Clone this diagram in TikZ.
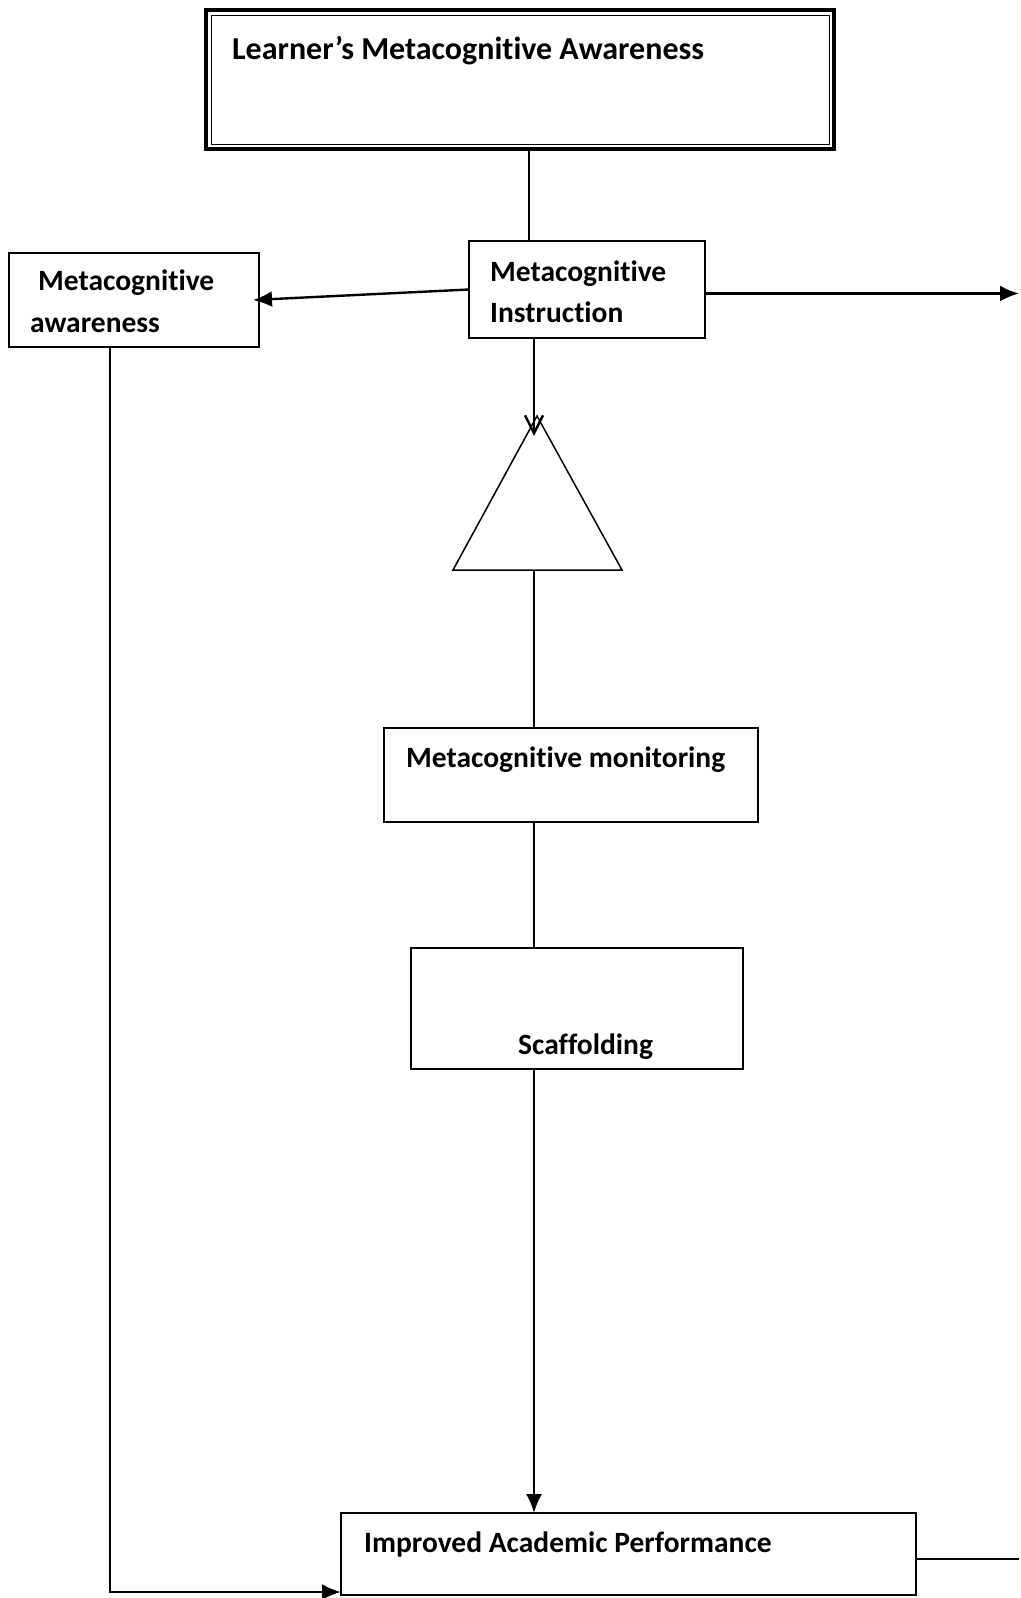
\documentclass[tikz,border=0pt]{standalone}
\usepackage{fontspec}
\setmainfont[Ligatures=NoCommon]{Carlito}
\usetikzlibrary{arrows.meta}
\tikzset{
  box/.style={draw, line width=1.3pt, inner sep=0pt, outer sep=0pt, anchor=north west},
  lbl/.style={anchor=base west, inner sep=0pt, font=\bfseries\fontsize{29.5}{35}\selectfont},
  link/.style={line width=2.4pt},
  tip/.style={-{Latex[length=19pt,width=16pt]}},
}
\begin{document}
\begin{tikzpicture}[x=1pt,y=-1pt]
\useasboundingbox (0,0) rectangle (1020,1598);
\node[box, line width=4pt, minimum width=628pt, minimum height=139pt] (lma) at (206,10) {};
\draw[line width=1pt] ([shift={(5,5)}]lma.north west) rectangle ([shift={(-5,-5)}]lma.south east);
\node[lbl, font=\bfseries\fontsize{32}{38}\selectfont] (lma-t) at (232,59) {Learner’s Metacognitive Awareness};
\node[box, minimum width=236pt, minimum height=97pt] (mi) at (469,241) {};
\node[lbl] (mi-t1) at (490,281) {Metacognitive};
\node[lbl] (mi-t2) at (490,322) {Instruction};
\node[box, minimum width=250pt, minimum height=94pt] (ma) at (9,253) {};
\node[lbl] (ma-t1) at (38,290) {Metacognitive};
\node[lbl] (ma-t2) at (30,332) {awareness};
\node[box, line width=2.2pt, minimum width=374pt, minimum height=94pt] (mm) at (384,728) {};
\node[lbl] (mm-t) at (406,767) {Metacognitive monitoring};
\node[box, minimum width=332pt, minimum height=121pt] (sc) at (411,948) {};
\node[lbl] (sc-t) at (518,1054) {Scaffolding};
\node[box, minimum width=575pt, minimum height=82pt] (iap) at (341,1513) {};
\node[lbl] (iap-t) at (364,1552) {Improved Academic Performance};
\coordinate (tri-a) at (537,416);
\coordinate (tri-l) at (453,570);
\coordinate (tri-r) at (622,570);
\coordinate (sp) at (534,0);
\coordinate (lx) at (110,0);
\coordinate (re) at (1019,0);
\coordinate (vtip) at (534,436);
\draw[line width=1.5pt] (tri-a) -- (tri-l) -- (tri-r) -- cycle;
\draw[link] ([xshift=9pt]lma.south) -- ([xshift=9pt]lma.south |- mi.north);
\draw[link,tip] (mi.west) -- ([xshift=-6pt]ma.east);
\draw[link,tip] ([yshift=-4pt]mi.east) -- ([yshift=-4pt]mi.east -| re);
\draw[link,-{Straight Barb[length=18pt,width=18pt]}] (sp |- mi.south) -- (vtip);
\draw[link] (sp |- tri-l) -- (sp |- mm.north);
\draw[link] (sp |- mm.south) -- (sp |- sc.north);
\draw[link,tip] (sp |- sc.south) -- (sp |- iap.north);
\draw[link] ([yshift=-5pt]iap.east) -- ([yshift=-5pt]iap.east -| re);
\draw[link,tip] (lx |- ma.south) |- ([yshift=-38pt]iap.west);
\end{tikzpicture}
\end{document}
